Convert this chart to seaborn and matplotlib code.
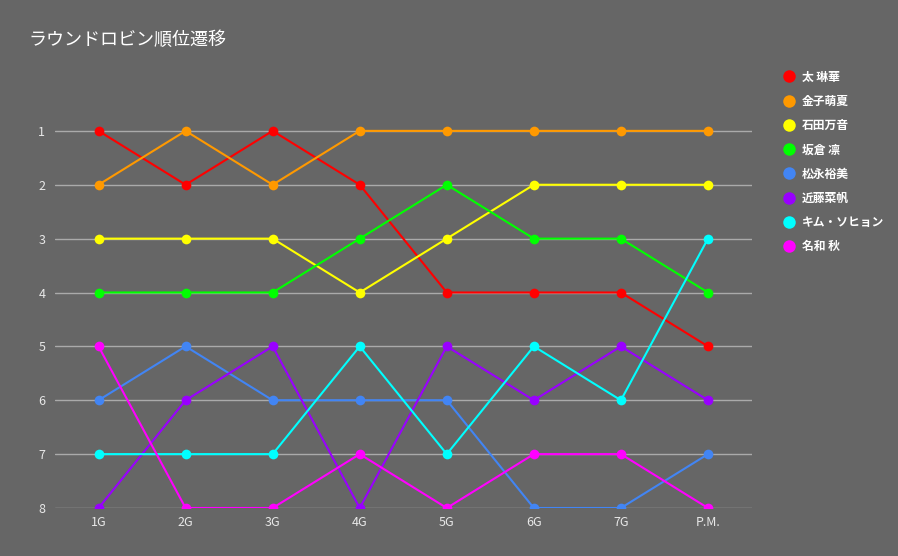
import pandas as pd
import matplotlib
matplotlib.use("Agg")
import matplotlib.pyplot as plt
import seaborn as sns
from matplotlib.lines import Line2D

# data
rounds = ["1G", "2G", "3G", "4G", "5G", "6G", "7G", "P.M."]
players = ["太 琳華", "金子萌夏", "石田万音", "坂倉 凛", "松永裕美", "近藤菜帆", "キム・ソヒョン", "名和 秋"]
futo = [1, 2, 1, 2, 4, 4, 4, 5]
kaneko = [2, 1, 2, 1, 1, 1, 1, 1]
ishida = [3, 3, 3, 4, 3, 2, 2, 2]
sakakura = [4, 4, 4, 3, 2, 3, 3, 4]
matsunaga = [6, 5, 6, 6, 6, 8, 8, 7]
kondo = [8, 6, 5, 8, 5, 6, 5, 6]
kim = [7, 7, 7, 5, 7, 5, 6, 3]
nawa = [5, 8, 8, 7, 8, 7, 7, 8]
colors = ["#ff0000", "#ff9900", "#ffff00", "#00ff00", "#4285f4", "#9900ff", "#00ffff", "#ff00ff"]

series = [futo, kaneko, ishida, sakakura, matsunaga, kondo, kim, nawa]
rows = []
for name, vals in zip(players, series):
    for i, v in enumerate(vals):
        rows.append({"player": name, "round": i, "rank": v})
df = pd.DataFrame(rows)

sns.set_theme(style="white")
plt.rcParams["font.family"] = ["Noto Sans CJK JP", "DejaVu Sans"]

bg = "#666666"
fig = plt.figure(figsize=(8.98, 5.56), dpi=100, facecolor=bg)
ax = fig.add_axes([55 / 898, 48 / 556, 696.5 / 898, 431 / 556])
ax.set_facecolor(bg)

for y in range(1, 9):
    ax.axhline(y, color="#aaaaaa", lw=1, zorder=0)

sns.lineplot(data=df, x="round", y="rank", hue="player", hue_order=players,
             palette=colors, marker="o", markersize=7, markeredgewidth=0,
             linewidth=1.5, legend=False, ax=ax)

ax.set_xlim(-0.5, 7.5)
ax.set_ylim(8, 0)
ax.set_yticks(range(1, 9))
ax.set_xticks(range(len(rounds)))
ax.set_xticklabels(rounds)
ax.tick_params(colors="#e8e8e8", labelsize=9, length=0, pad=6)
ax.tick_params(axis="y", pad=7)
ax.set_xlabel("")
ax.set_ylabel("")
for s in ax.spines.values():
    s.set_visible(False)

fig.text(28 / 898, 1 - 40 / 556, "ラウンドロビン順位遷移", color="white",
         fontsize=13, va="center", ha="left")

handles = [Line2D([], [], linestyle="none", marker="o", markersize=9,
                  markerfacecolor=c, markeredgewidth=0) for c in colors]
leg = fig.legend(handles, players, loc="upper left",
                 bbox_to_anchor=(772 / 898, 1 - 60 / 556), frameon=False,
                 labelcolor="white", prop={"size": 8.5, "weight": "bold"},
                 handlelength=1.0, handletextpad=0.6, labelspacing=0.95)

fig.savefig("out.png", dpi=100, facecolor=bg)
